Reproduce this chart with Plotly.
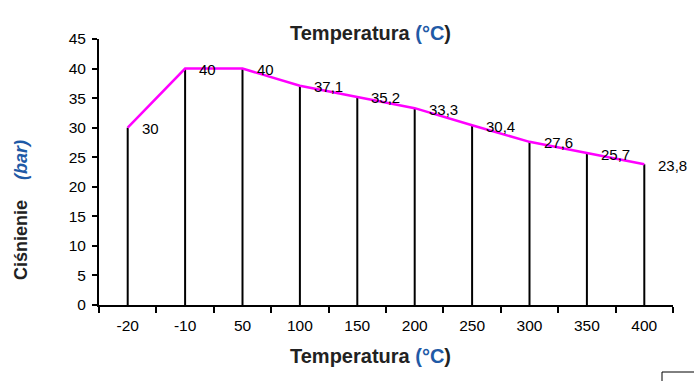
import plotly.graph_objects as go

# Temperature categories and corresponding pressure ratings
temps = ["-20", "-10", "50", "100", "150", "200", "250", "300", "350", "400"]
pressure = [30, 40, 40, 37.1, 35.2, 33.3, 30.4, 27.6, 25.7, 23.8]
labels = ["30", "40", "40", "37,1", "35,2", "33,3", "30,4", "27,6", "25,7", "23,8"]
y_ticks = [0, 5, 10, 15, 20, 25, 30, 35, 40, 45]

FONT = "Liberation Sans"
BLUE = "#1f5aa6"

# plot area in pixels
W, H = 694, 381
ML, MR, MT, MB = 99, 21, 39, 76
PW, PH = W - ML - MR, H - MT - MB


def px_x(x):
    return (x - ML) / PW


def px_y(y):
    return (H - y - MB) / PH


# vertical drop lines from the axis up to each value
drop_x, drop_y = [], []
for t, p in zip(temps, pressure):
    drop_x += [t, t, None]
    drop_y += [0, p, None]

fig = go.Figure()
fig.add_trace(go.Scatter(
    x=drop_x, y=drop_y, mode="lines",
    line=dict(color="black", width=2), hoverinfo="skip", showlegend=False,
))
fig.add_trace(go.Scatter(
    x=temps, y=pressure, mode="lines",
    line=dict(color="#ff00ff", width=2.5),
    showlegend=False,
))

annotations = []
# value labels to the right of each point (category axis: position by index)
for i, (p, lab) in enumerate(zip(pressure, labels)):
    annotations.append(dict(
        x=i, y=p, xref="x", yref="y", text=lab, showarrow=False,
        xanchor="left", yanchor="middle", xshift=12, yshift=-1,
        font=dict(family=FONT, size=15, color="black"),
    ))

title_html = "<b>Temperatura <span style='color:%s'>(°C</span>)</b>" % BLUE
for ty in (20, 369):
    annotations.append(dict(
        text=title_html, x=px_x(370), y=px_y(ty), xref="paper", yref="paper",
        showarrow=False, font=dict(family=FONT, size=20, color="#222"),
    ))
annotations.append(dict(
    text="<b>Ciśnienie&nbsp;&nbsp;&nbsp;&nbsp;<span style='color:%s'><i>(bar)</i></span></b>" % BLUE,
    x=px_x(20), y=px_y(210), xref="paper", yref="paper", textangle=-90,
    xshift=-11, showarrow=False, font=dict(family=FONT, size=18, color="#222"),
))

fig.update_layout(
    width=W, height=H,
    margin=dict(l=ML, r=MR, t=MT, b=MB),
    paper_bgcolor="white", plot_bgcolor="white",
    font=dict(family=FONT, size=15, color="black"),
    xaxis=dict(
        type="category", categoryorder="array", categoryarray=temps,
        range=[-0.5, len(temps) - 0.5],
        showline=True, linecolor="black", linewidth=2,
        ticks="outside", tickson="boundaries", ticklen=6, tickwidth=2, tickcolor="black",
        showgrid=False, zeroline=False, ticklabelstandoff=5,
        tickfont=dict(family=FONT, size=15.5, color="black"),
    ),
    yaxis=dict(
        range=[0, 45], tickvals=y_ticks,
        showline=True, linecolor="black", linewidth=2,
        ticks="outside", ticklen=5, tickwidth=2, tickcolor="black",
        showgrid=False, zeroline=False, ticklabelstandoff=3,
        tickfont=dict(family=FONT, size=15.5, color="black"),
    ),
    annotations=annotations,
)

# small framed box at the lower right corner of the page
fig.add_shape(type="rect", xref="paper", yref="paper",
              x0=px_x(662), x1=px_x(700), y0=px_y(390), y1=px_y(372),
              line=dict(color="black", width=1), fillcolor="white")

fig.write_html("out.html")
